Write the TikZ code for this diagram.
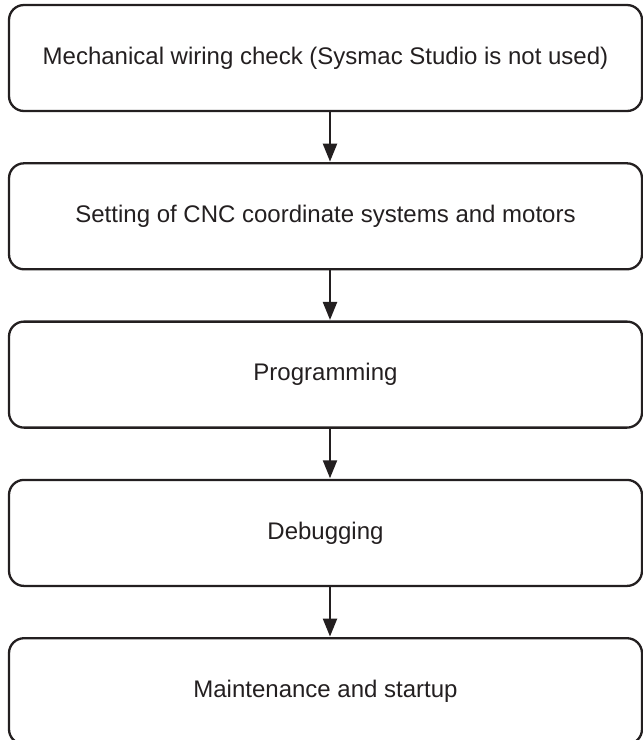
\documentclass[tikz,border=0pt]{standalone}
\usepackage{fontspec}
\setmainfont{Liberation Sans}
\usetikzlibrary{arrows.meta,positioning}
\definecolor{inkblack}{HTML}{231F20}

\begin{document}
\begin{tikzpicture}[x=1pt,y=1pt,>={Triangle[length=18pt,width=14pt]},
    stepbox/.style={draw=inkblack,line width=2.3pt,rounded corners=15pt,
      minimum width=633pt,minimum height=106pt,inner sep=0pt,
      font=\fontsize{24}{28}\selectfont,text=inkblack},
    flow/.style={->,draw=inkblack,fill=inkblack,line width=2.3pt,shorten >=0.5pt}]
    \useasboundingbox (0,0) rectangle (643,-740);

    % process steps
    \node[stepbox] (wiring)  at (325.5,-58)  {Mechanical wiring check (Sysmac Studio is not used)};
    \node[stepbox,below=50pt of wiring] (setting) {Setting of CNC coordinate systems and motors};
    \node[stepbox,below=50pt of setting] (program) {Programming};
    \node[stepbox,below=50pt of program] (debug)   {Debugging};
    \node[stepbox,below=50pt of debug]   (maint)   {Maintenance and startup};

    % arrows between steps
    \foreach \a/\b in {wiring/setting,setting/program,program/debug,debug/maint}
      \draw[flow] ([xshift=4.5pt]\a.south) -- ([xshift=4.5pt]\b.north);
  \end{tikzpicture}
\end{document}
